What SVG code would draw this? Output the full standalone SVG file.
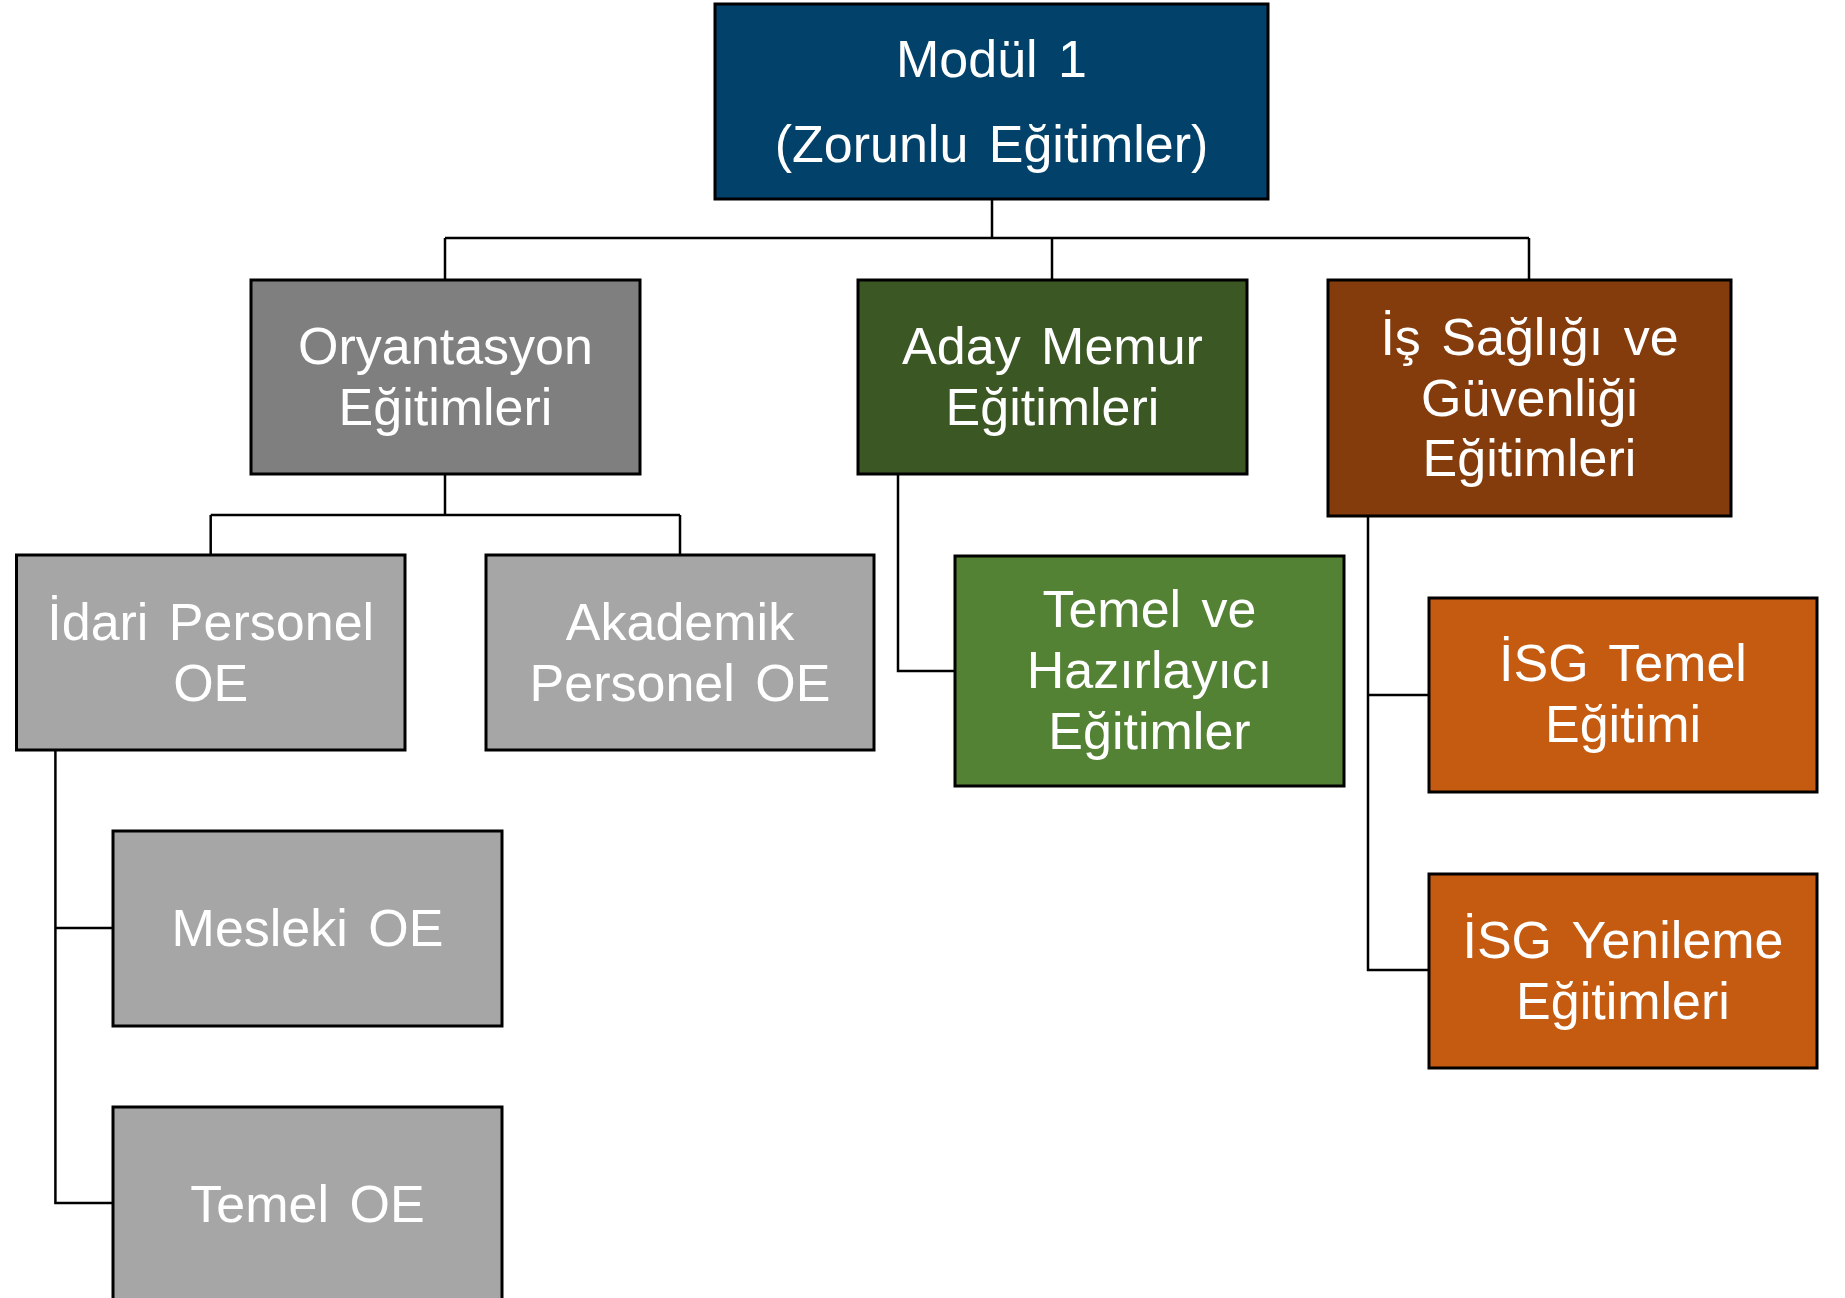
<svg xmlns="http://www.w3.org/2000/svg" width="1845" height="1298" viewBox="0 0 1845 1298">
<style>
.box{stroke:#000;stroke-width:3}
.t{font-family:"Liberation Sans",Arial,sans-serif;font-size:52px;fill:#fff;text-anchor:middle;word-spacing:6px}
.c{fill:none;stroke:#000;stroke-width:2.5}
</style>
<rect width="1845" height="1298" fill="#fff"/>
<g id="connectors">
<path class="c" d="M992 199V238M445 238H1529M445 238V280M1052 238V280M1529 238V280"/>
<path class="c" d="M445 474V515M210.7 515H680M210.7 515V555M680 515V555"/>
<path class="c" d="M55.4 750V1203H113M55.4 928H113"/>
<path class="c" d="M898 474V671H955"/>
<path class="c" d="M1368 516V970H1429M1368 695H1429"/>
</g>
<g id="modul1">
<rect class="box" x="715" y="4" width="553" height="195" fill="#02416A"/>
<text class="t" x="991.5" y="77">Modül 1</text>
<text class="t" x="991.5" y="162">(Zorunlu Eğitimler)</text>
</g>
<g id="oryantasyon">
<rect class="box" x="251" y="280" width="389" height="194" fill="#7F7F7F"/>
<text class="t" x="445.5" y="364">Oryantasyon</text>
<text class="t" x="445.5" y="425">Eğitimleri</text>
</g>
<g id="aday">
<rect class="box" x="858" y="280" width="389" height="194" fill="#3A5724"/>
<text class="t" x="1052.5" y="364">Aday Memur</text>
<text class="t" x="1052.5" y="425">Eğitimleri</text>
</g>
<g id="isg">
<rect class="box" x="1328" y="280" width="403" height="236" fill="#843C0C"/>
<text class="t" x="1529.5" y="355">İş Sağlığı ve</text>
<text class="t" x="1529.5" y="416">Güvenliği</text>
<text class="t" x="1529.5" y="476">Eğitimleri</text>
</g>
<g id="idari">
<rect class="box" x="16.5" y="555" width="388.5" height="195" fill="#A6A6A6"/>
<text class="t" x="210.7" y="640">İdari Personel</text>
<text class="t" x="210.7" y="701">OE</text>
</g>
<g id="akademik">
<rect class="box" x="486" y="555" width="388" height="195" fill="#A6A6A6"/>
<text class="t" x="680" y="640">Akademik</text>
<text class="t" x="680" y="701">Personel OE</text>
</g>
<g id="temelve">
<rect class="box" x="955" y="556" width="389" height="230" fill="#548235"/>
<text class="t" x="1149.5" y="627">Temel ve</text>
<text class="t" x="1149.5" y="688">Hazırlayıcı</text>
<text class="t" x="1149.5" y="749">Eğitimler</text>
</g>
<g id="isgtemel">
<rect class="box" x="1429" y="598" width="388" height="194" fill="#C55A11"/>
<text class="t" x="1623" y="681">İSG Temel</text>
<text class="t" x="1623" y="742">Eğitimi</text>
</g>
<g id="isgyenileme">
<rect class="box" x="1429" y="874" width="388" height="194" fill="#C55A11"/>
<text class="t" x="1623" y="958">İSG Yenileme</text>
<text class="t" x="1623" y="1019">Eğitimleri</text>
</g>
<g id="mesleki">
<rect class="box" x="113" y="831" width="389" height="195" fill="#A6A6A6"/>
<text class="t" x="307.5" y="946">Mesleki OE</text>
</g>
<g id="temeloe">
<rect class="box" x="113" y="1107" width="389" height="200" fill="#A6A6A6"/>
<text class="t" x="307.5" y="1222">Temel OE</text>
</g>
</svg>
